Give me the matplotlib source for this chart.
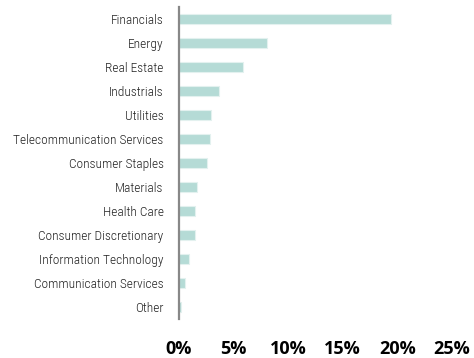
import numpy as np
import matplotlib.pyplot as plt

# sector weights (%)
sectors = ["Financials", "Energy", "Real Estate", "Industrials", "Utilities",
           "Telecommunication Services", "Consumer Staples", "Materials",
           "Health Care", "Consumer Discretionary", "Information Technology",
           "Communication Services", "Other"]
weights = [19.4, 8.1, 5.9, 3.7, 2.9, 2.8, 2.6, 1.65, 1.5, 1.5, 0.95, 0.55, 0.15]
xticks = [0, 5, 10, 15, 20, 25]

fig = plt.figure(figsize=(4.74, 3.58), dpi=100)
ax = fig.add_axes([179/474, 1-319.3/358, (452-179)/474, (319.3-7.3)/358])

y = np.arange(len(sectors))
ax.barh(y, weights, height=0.42, color="#b5dbd6", edgecolor="#e3f1ef", linewidth=0.8)
ax.set_ylim(len(sectors)-0.5, -0.5)
ax.set_xlim(0, 25)

ax.set_yticks(y)
ax.set_yticklabels(sectors, fontname="Roboto Condensed", fontweight="light",
                   fontsize=9.6, color="#222222")
ax.set_xticks(xticks)
ax.set_xticklabels([f"{t}%" for t in xticks], fontname="Open Sans",
                   fontweight="bold", fontsize=13, color="black")
ax.tick_params(axis="y", length=0, pad=11)
ax.tick_params(axis="x", length=0, pad=15)

for s in ["top", "right", "bottom"]:
    ax.spines[s].set_visible(False)
ax.spines["left"].set_color("#888888")
ax.spines["left"].set_linewidth(1.6)

fig.savefig("out.png", dpi=100)
